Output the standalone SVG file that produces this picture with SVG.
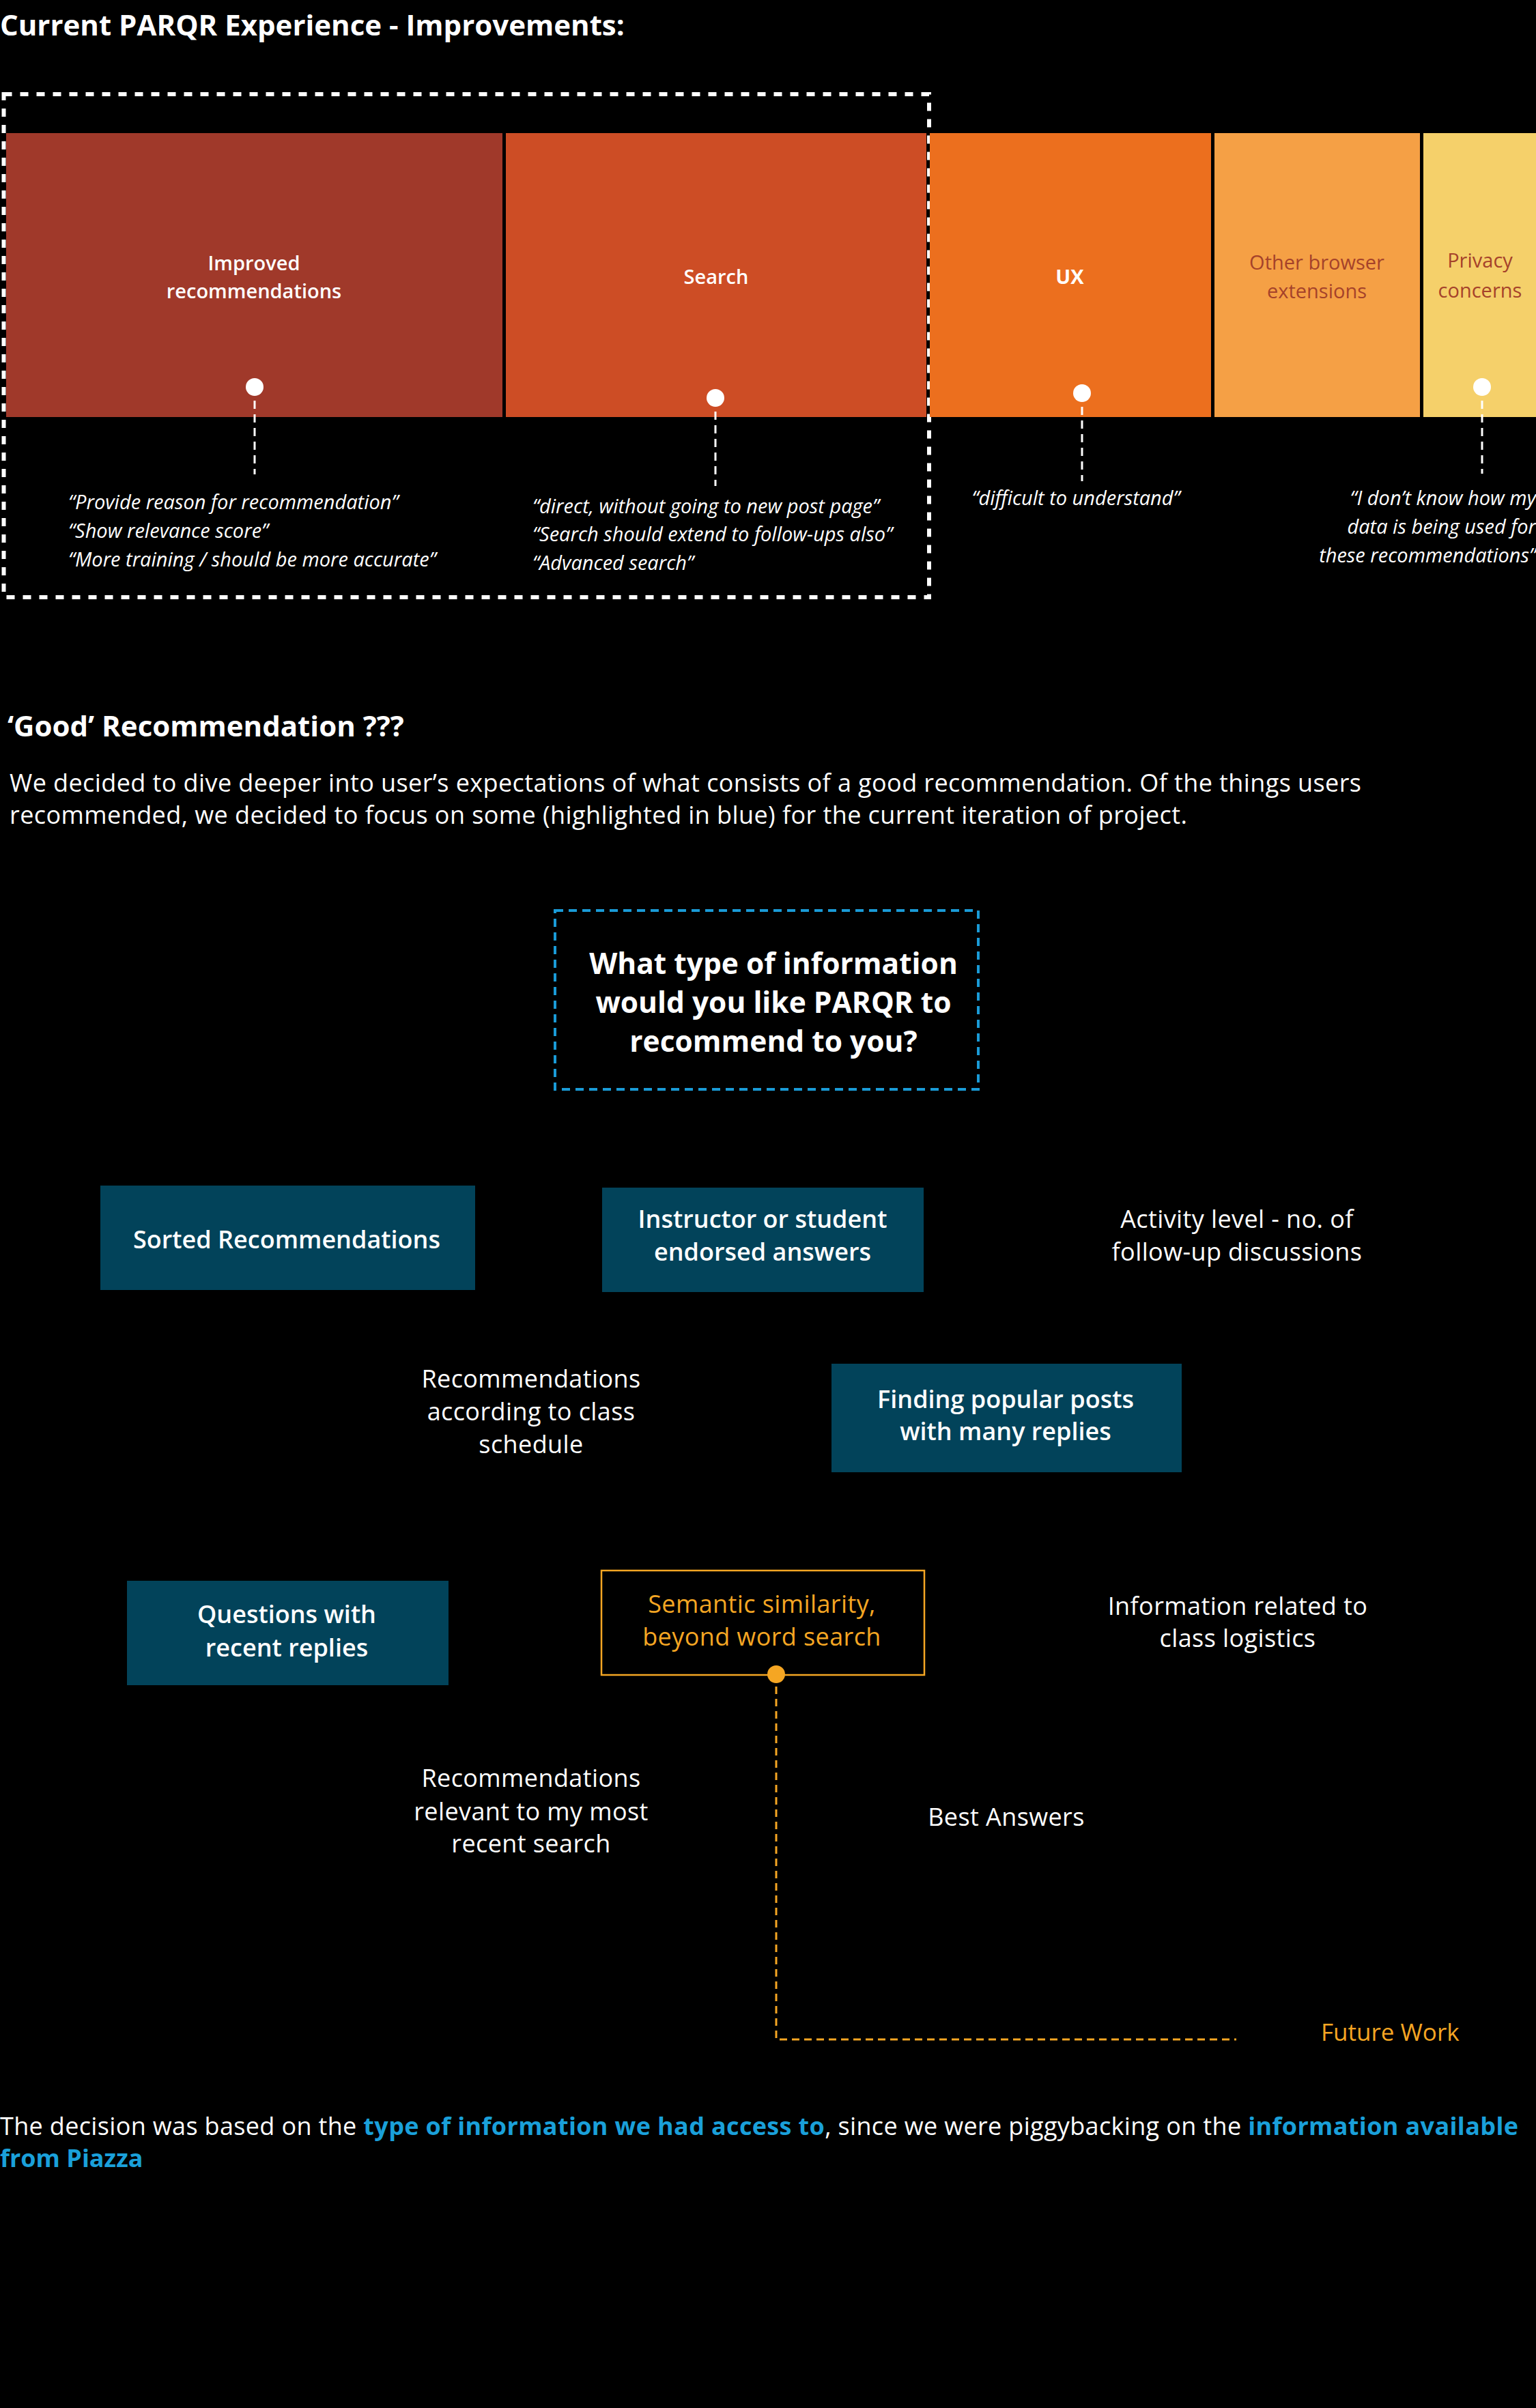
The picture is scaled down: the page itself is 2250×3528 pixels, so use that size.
<svg xmlns="http://www.w3.org/2000/svg" width="2250" height="3528" viewBox="0 0 2250 3528">
<defs>
<style>
text{font-family:"Open Sans","Noto Sans","Liberation Sans",sans-serif;}
.h{font-weight:700;fill:#fff;font-size:42px;}
.p{fill:#fff;font-size:36px;}
.bl{fill:#1AA0DA;font-weight:700;}
.cat{font-size:29px;text-anchor:middle;}
.q{font-size:29px;font-style:italic;fill:#fff;}
.nb{fill:#02435A;}
.nt{font-size:36px;fill:#fff;text-anchor:middle;font-weight:600;}
.ft{font-size:36px;fill:#fff;text-anchor:middle;letter-spacing:0.4px;}
.pin{fill:#fff;}
.lead{stroke:#fff;stroke-width:3;stroke-dasharray:12 8;fill:none;}
</style>
</defs>
<rect x="0" y="0" width="2250" height="3528" fill="#000"/>

<text id="title" class="h" x="0" y="52">Current PARQR Experience - Improvements:</text>

<g id="focus-frame">
<rect x="5.5" y="138" width="1355.5" height="737" fill="none" stroke="#fff" stroke-width="6" stroke-dasharray="12 12"/>
</g>

<g id="cat-improved">
<rect x="9" y="195" width="727" height="416" fill="#A0392A"/>
<text class="cat" x="372" y="396" fill="#fff" font-weight="600">Improved</text>
<text class="cat" x="372" y="437" fill="#fff" font-weight="600">recommendations</text>
</g>
<g id="cat-search">
<rect x="741" y="195" width="616" height="416" fill="#CD4D25"/>
<text class="cat" x="1049" y="416" fill="#fff" font-weight="600">Search</text>
</g>
<g id="cat-ux">
<rect x="1362" y="195" width="412" height="416" fill="#EC6F1E"/>
<text class="cat" x="1567" y="416" fill="#fff" font-weight="700">UX</text>
</g>
<g id="cat-browser">
<rect x="1779" y="195" width="301" height="416" fill="#F5A045"/>
<text class="cat" x="1929" y="395" fill="#A5422A">Other browser</text>
<text class="cat" x="1929" y="437" fill="#A5422A">extensions</text>
</g>
<g id="cat-privacy">
<rect x="2085" y="195" width="165" height="416" fill="#F5D06A"/>
<text class="cat" x="2168" y="392" fill="#A5422A">Privacy</text>
<text class="cat" x="2168" y="436" fill="#A5422A">concerns</text>
</g>

<g id="quotes-improved">
<text class="q" x="100" y="746">“Provide reason for recommendation”</text>
<text class="q" x="100" y="788">“Show relevance score”</text>
<text class="q" x="100" y="830">“More training / should be more accurate”</text>
</g>
<g id="quotes-search">
<text class="q" x="780" y="752">“direct, without going to new post page”</text>
<text class="q" x="780" y="793">“Search should extend to follow-ups also”</text>
<text class="q" x="780" y="835">“Advanced search”</text>
</g>
<g id="quotes-ux">
<text class="q" x="1576" y="740" text-anchor="middle">“difficult to understand”</text>
</g>
<g id="quotes-privacy">
<text class="q" x="2250" y="740" text-anchor="end">“I don’t know how my</text>
<text class="q" x="2250" y="782" text-anchor="end">data is being used for</text>
<text class="q" x="2250" y="824" text-anchor="end">these recommendations”</text>
</g>

<text id="heading2" class="h" x="11" y="1079">‘Good’ Recommendation ???</text>
<g id="intro">
<text class="p" x="14" y="1160" textLength="1980" lengthAdjust="spacing">We decided to dive deeper into user’s expectations of what consists of a good recommendation. Of the things users</text>
<text class="p" x="14" y="1207" textLength="1725" lengthAdjust="spacing">recommended, we decided to focus on some (highlighted in blue) for the current iteration of project.</text>
</g>

<g id="question">
<rect x="813" y="1334" width="620" height="262" fill="none" stroke="#1A9BD7" stroke-width="4" stroke-dasharray="12 8"/>
<text x="1133" y="1427" fill="#fff" font-size="42.5" font-weight="700" text-anchor="middle">What type of information</text>
<text x="1133" y="1484" fill="#fff" font-size="42.5" font-weight="700" text-anchor="middle">would you like PARQR to</text>
<text x="1133" y="1541" fill="#fff" font-size="42.5" font-weight="700" text-anchor="middle">recommend to you?</text>
</g>

<g id="node-sorted">
<rect class="nb" x="147" y="1737" width="549" height="153"/>
<text class="nt" x="420" y="1829">Sorted Recommendations</text>
</g>
<g id="node-endorsed">
<rect class="nb" x="882" y="1740" width="471" height="153"/>
<text class="nt" x="1117" y="1799">Instructor or student</text>
<text class="nt" x="1117" y="1847">endorsed answers</text>
</g>
<g id="node-activity">
<text class="ft" x="1812" y="1799">Activity level - no. of</text>
<text class="ft" x="1812" y="1847">follow-up discussions</text>
</g>
<g id="node-schedule">
<text class="ft" x="778" y="2033">Recommendations</text>
<text class="ft" x="778" y="2081">according to class</text>
<text class="ft" x="778" y="2129">schedule</text>
</g>
<g id="node-popular">
<rect class="nb" x="1218" y="1998" width="513" height="159"/>
<text class="nt" x="1473" y="2063">Finding popular posts</text>
<text class="nt" x="1473" y="2110">with many replies</text>
</g>
<g id="node-recent">
<rect class="nb" x="186" y="2316" width="471" height="153"/>
<text class="nt" x="420" y="2378">Questions with</text>
<text class="nt" x="420" y="2427">recent replies</text>
</g>
<g id="node-semantic">
<rect x="881" y="2301" width="473" height="153" fill="none" stroke="#F5A623" stroke-width="2.5"/>
<text class="ft" x="1116" y="2363" style="fill:#F5A623">Semantic similarity,</text>
<text class="ft" x="1116" y="2411" style="fill:#F5A623">beyond word search</text>
</g>
<g id="node-logistics">
<text class="ft" x="1813" y="2366">Information related to</text>
<text class="ft" x="1813" y="2413">class logistics</text>
</g>
<g id="node-search">
<text class="ft" x="778" y="2618">Recommendations</text>
<text class="ft" x="778" y="2667">relevant to my most</text>
<text class="ft" x="778" y="2714">recent search</text>
</g>
<g id="node-best">
<text class="ft" x="1474" y="2675">Best Answers</text>
</g>
<g id="node-future">
<text x="1935" y="2990" font-size="35" fill="#F5A623">Future Work</text>
</g>

<g id="connectors">
<line class="lead" x1="373" y1="567" x2="373" y2="695"/>
<line class="lead" x1="1048" y1="583" x2="1048" y2="712"/>
<line class="lead" x1="1585" y1="576" x2="1585" y2="705"/>
<line class="lead" x1="2171" y1="567" x2="2171" y2="694"/>
<circle class="pin" cx="373" cy="567" r="13"/>
<circle class="pin" cx="1048" cy="583" r="13"/>
<circle class="pin" cx="1585" cy="576" r="13"/>
<circle class="pin" cx="2171" cy="567" r="13"/>
<path d="M1137 2453 V2988 H1811" fill="none" stroke="#F5A623" stroke-width="3" stroke-dasharray="11 7"/>
<circle cx="1137" cy="2453" r="13" fill="#F5A623"/>
</g>

<g id="conclusion">
<text class="p" x="0" y="3128" textLength="2224" lengthAdjust="spacing">The decision was based on the <tspan class="bl">type of information we had access to</tspan>, since we were piggybacking on the <tspan class="bl">information available</tspan></text>
<text class="p" x="0" y="3175"><tspan class="bl">from Piazza</tspan></text>
</g>
</svg>
